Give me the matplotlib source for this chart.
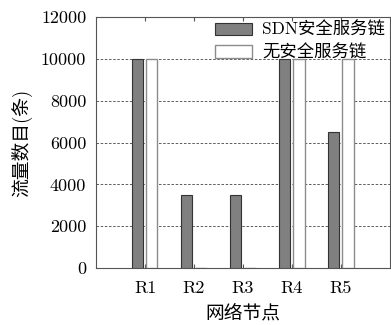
import numpy as np
import matplotlib
matplotlib.use("Agg")
import matplotlib.pyplot as plt

plt.rcParams['font.family'] = ['cmr10', 'Noto Sans CJK SC']
plt.rcParams['axes.formatter.use_mathtext'] = False

nodes = ["R1", "R2", "R3", "R4", "R5"]
sdn_chain = [10000, 3500, 3500, 10000, 6500]
no_chain = [10000, 0, 0, 10000, 10000]

fig = plt.figure(figsize=(3.91, 3.25), dpi=100)
ax = fig.add_axes([0.2455, 0.175, 0.752, 0.773])

x = np.arange(1, len(nodes) + 1)
w = 0.23
ax.bar(x - 0.16, sdn_chain, w, color="#808080", edgecolor="#333333", linewidth=0.8,
       label="SDN安全服务链", zorder=3)
ax.bar(x + 0.14, no_chain, w, color="white", edgecolor="#8c8c8c", linewidth=1.0,
       label="无安全服务链", zorder=3)

ax.set_xlim(0, 6)
ax.set_ylim(0, 12000)
ax.set_yticks(range(0, 12001, 2000))
ax.set_xticks(x)
ax.set_xticklabels(nodes)
ax.yaxis.grid(True, linestyle=(0, (3, 2)), color="#444444", linewidth=0.6, zorder=0)
ax.tick_params(axis="both", direction="in", length=3, labelsize=13, top=True, color="#555555")
ax.tick_params(axis="y", length=0, pad=7)
ax.tick_params(axis="x", pad=9)
for s in ax.spines.values():
    s.set_color("#555555")
    s.set_linewidth(0.8)

ax.set_xlabel("网络节点", fontsize=13.5, labelpad=6)
ax.set_ylabel("流量数目(条)", fontsize=13.5, labelpad=6)
ax.legend(loc="upper right", frameon=False, fontsize=12.5, handlelength=2.1,
          handleheight=0.75, borderaxespad=0.1, borderpad=0.2, labelspacing=0.35,
          handletextpad=0.6)

fig.savefig("out.png", dpi=100)
